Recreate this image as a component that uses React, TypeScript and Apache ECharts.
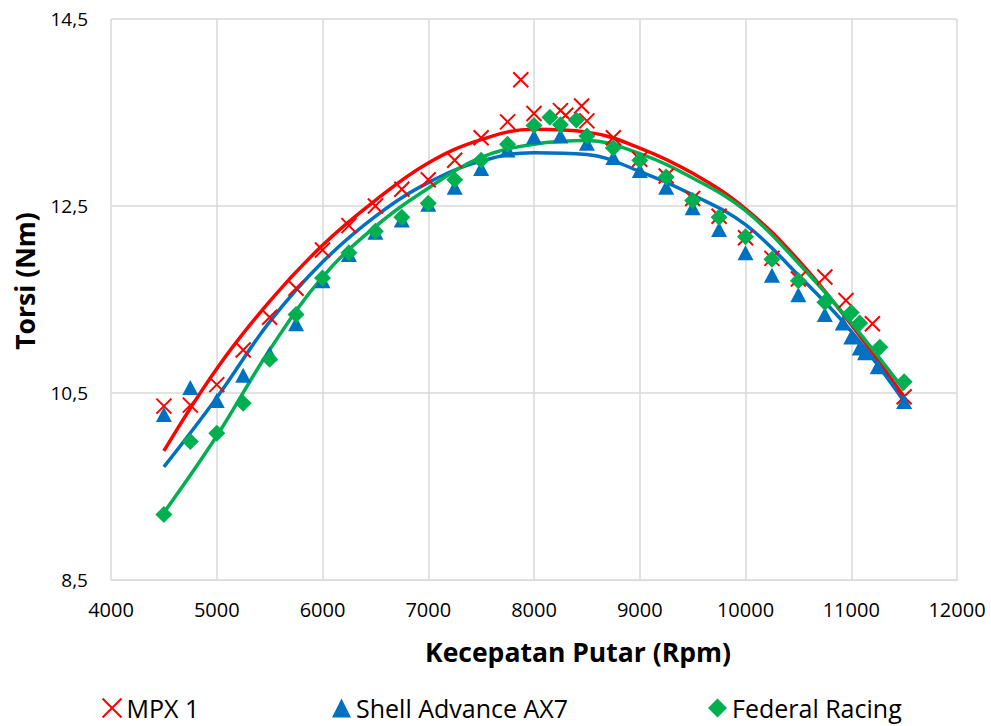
import React, { useEffect, useRef } from "react";
import * as echarts from "echarts";

const mpxRpm = [4500, 4750, 5000, 5250, 5500, 5750, 6000, 6250, 6500, 6750, 7000, 7250, 7500, 7750, 7875, 8000, 8250, 8300, 8450, 8500, 8750, 9000, 9250, 9500, 9750, 10000, 10250, 10500, 10750, 10950, 11200, 11500];
const mpxTorque = [10.36, 10.37, 10.59, 10.96, 11.31, 11.62, 12.03, 12.29, 12.5, 12.68, 12.78, 12.99, 13.23, 13.4, 13.85, 13.49, 13.52, 13.47, 13.57, 13.41, 13.23, 13.0, 12.82, 12.58, 12.39, 12.16, 11.94, 11.72, 11.74, 11.49, 11.24, 10.46];

const shellRpm = [4500, 4750, 5000, 5250, 5500, 5750, 6000, 6250, 6500, 6750, 7000, 7250, 7500, 7750, 8000, 8250, 8500, 8750, 9000, 9250, 9500, 9750, 10000, 10250, 10500, 10750, 10920, 11000, 11080, 11130, 11250, 11500];
const shellTorque = [10.27, 10.56, 10.42, 10.69, 10.92, 11.24, 11.7, 11.98, 12.22, 12.35, 12.52, 12.7, 12.9, 13.1, 13.24, 13.25, 13.17, 13.02, 12.88, 12.7, 12.48, 12.25, 12.0, 11.76, 11.55, 11.34, 11.25, 11.1, 10.98, 10.93, 10.78, 10.41];

const federalRpm = [4500, 4750, 5000, 5250, 5500, 5750, 6000, 6250, 6500, 6750, 7000, 7250, 7500, 7750, 8000, 8150, 8250, 8400, 8500, 8750, 9000, 9250, 9500, 9750, 10000, 10250, 10500, 10750, 11000, 11080, 11270, 11500];
const federalTorque = [9.2, 9.98, 10.07, 10.39, 10.86, 11.34, 11.73, 12.0, 12.23, 12.38, 12.53, 12.78, 12.99, 13.16, 13.36, 13.45, 13.37, 13.42, 13.25, 13.12, 12.99, 12.81, 12.56, 12.38, 12.17, 11.93, 11.7, 11.47, 11.36, 11.25, 10.99, 10.62];

// Trendlines
const trendRpm = [4500, 5000, 5500, 6000, 6500, 7000, 7500, 8000, 8500, 9000, 9500, 10000, 10500, 11000, 11500];
const mpxTrend = [9.88, 10.76, 11.48, 12.08, 12.56, 12.96, 13.21, 13.32, 13.29, 13.12, 12.85, 12.47, 11.92, 11.23, 10.46];
const shellTrend = [9.71, 10.45, 11.26, 11.9, 12.39, 12.75, 12.98, 13.07, 13.05, 12.87, 12.62, 12.3, 11.76, 11.16, 10.41];
const federalTrend = [9.22, 10.04, 10.96, 11.74, 12.28, 12.69, 13.02, 13.16, 13.2, 13.06, 12.8, 12.45, 11.89, 11.25, 10.53];

const seriesNames = ["MPX 1", "Shell Advance AX7", "Federal Racing"];
const colors = ["#FF0000", "#0070C0", "#00B050"];
const xTitle = "Kecepatan Putar (Rpm)";
const yTitle = "Torsi (Nm)";

const CROSS = "path://M0,0L10,10M10,0L0,10";
const FONT = "'Open Sans', 'Noto Sans', sans-serif";

const zip = (xs: number[], ys: number[]) => xs.map((x, i) => [x, ys[i]]);

const legendBase = {
  top: 695,
  padding: 0,
  itemWidth: 19,
  itemHeight: 19,
  itemGap: 0,
  textStyle: { fontFamily: FONT, fontSize: 25, lineHeight: 26, color: "#000" },
};

export default function App() {
  const ref = useRef<HTMLDivElement>(null);
  useEffect(() => {
    if (!ref.current) return;
    const chart = echarts.init(ref.current, null, { renderer: "svg" });
    chart.setOption({
      animation: false,
      backgroundColor: "#ffffff",
      grid: { left: 111, right: 34, top: 19, bottom: 146 },
      legend: [
        {
          ...legendBase,
          left: 100,
          data: [{ name: seriesNames[0], icon: CROSS, itemStyle: { color: "none", borderColor: colors[0], borderWidth: 2 } }],
        },
        { ...legendBase, left: 332, data: [{ name: seriesNames[1], icon: "triangle" }] },
        { ...legendBase, left: 708, data: [{ name: seriesNames[2], icon: "diamond" }] },
      ],
      graphic: [
        {
          type: "text",
          x: 578,
          y: 652,
          style: {
            text: xTitle,
            fontFamily: FONT,
            fontSize: 26.5,
            fontWeight: "bold",
            fill: "#000",
            align: "center",
            verticalAlign: "middle",
          },
        },
        {
          type: "text",
          x: 25,
          y: 281,
          rotation: Math.PI / 2,
          style: {
            text: yTitle,
            fontFamily: FONT,
            fontSize: 26.5,
            fontWeight: "bold",
            fill: "#000",
            align: "center",
            verticalAlign: "middle",
          },
        },
      ],
      xAxis: {
        type: "value",
        min: 4000,
        max: 12000,
        interval: 1000,
        axisLine: { show: true, lineStyle: { color: "#d9d9d9", width: 1 } },
        axisTick: { show: false },
        axisLabel: { fontFamily: FONT, fontSize: 20, color: "#000", margin: 19, formatter: (v: number) => String(v) },
        splitLine: { show: true, lineStyle: { color: "#d9d9d9", width: 1.5 } },
      },
      yAxis: {
        type: "value",
        min: 8.5,
        max: 14.5,
        interval: 2,
        axisLine: { show: false },
        axisTick: { show: false },
        axisLabel: {
          fontFamily: FONT,
          fontSize: 19,
          color: "#000",
          margin: 23,
          formatter: (v: number) => v.toFixed(1).replace(".", ","),
        },
        splitLine: { show: true, lineStyle: { color: "#d9d9d9", width: 1.5 } },
      },
      series: [
        {
          name: seriesNames[0] + " trend",
          type: "line",
          smooth: 0.4,
          showSymbol: false,
          data: zip(trendRpm, mpxTrend),
          lineStyle: { color: colors[0], width: 3.5 },
          z: 3,
        },
        {
          name: seriesNames[1] + " trend",
          type: "line",
          smooth: 0.4,
          showSymbol: false,
          data: zip(trendRpm, shellTrend),
          lineStyle: { color: colors[1], width: 3.5 },
          z: 3,
        },
        {
          name: seriesNames[2] + " trend",
          type: "line",
          smooth: 0.4,
          showSymbol: false,
          data: zip(trendRpm, federalTrend),
          lineStyle: { color: colors[2], width: 3.5 },
          z: 3,
        },
        {
          name: seriesNames[0],
          type: "scatter",
          symbol: CROSS,
          symbolSize: 15,
          data: zip(mpxRpm, mpxTorque),
          itemStyle: { color: "none", borderColor: colors[0], borderWidth: 2, opacity: 1 },
          z: 4,
        },
        {
          name: seriesNames[1],
          type: "scatter",
          symbol: "triangle",
          symbolSize: [16, 15],
          data: zip(shellRpm, shellTorque),
          itemStyle: { color: colors[1], opacity: 1 },
          z: 5,
        },
        {
          name: seriesNames[2],
          type: "scatter",
          symbol: "diamond",
          symbolSize: [17, 17],
          data: zip(federalRpm, federalTorque),
          itemStyle: { color: colors[2], opacity: 1 },
          z: 6,
        },
      ],
    });
    return () => chart.dispose();
  }, []);
  return <div ref={ref} style={{ position: "fixed", left: 0, top: 0, width: 991, height: 726 }} />;
}
